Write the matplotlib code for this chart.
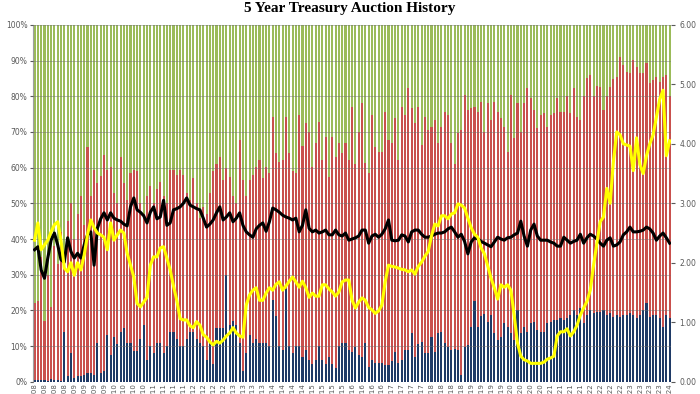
import matplotlib.pyplot as plt
import numpy as np

# monthly 5y auctions, Jan 2008 .. Jan 2024
# direct bidders (% of total), bottom blue bars
direct = [
    0.6, 0.5, 0.4, 0.5, 0.3, 0.7, 0.5, 0.4, 0.3, 14,
    1.5, 8, 1.2, 1.5, 1.5, 2.0, 2.5, 2.5, 2.0, 11,
    2.5, 3.0, 13, 7.5, 12.5, 10.5, 14, 15, 11, 11,
    8.5, 8.5, 12, 16, 6, 10, 8, 11, 11, 8,
    10, 14, 14, 12, 10, 10, 12, 14, 14, 12,
    11, 10, 6, 11, 5, 15, 15, 15, 30, 16,
    17, 16, 11, 3, 8, 13, 11, 12, 11, 11,
    11, 10, 23, 18.5, 10, 9, 26, 10, 8, 10,
    10, 7, 9, 6, 5, 6, 10, 6, 5, 7,
    5, 4, 10, 11, 11, 9,
    8.4, 9.8, 7.5, 7.0, 11, 4.2, 6.1, 5.2, 5.2, 5.2,
    4.7, 4.7, 5.7, 8.4, 5.2, 6.1, 8.9, 8.9, 13.6, 7.0,
    10.7, 11.2, 8.0, 8.0, 12.6, 8.4, 13.6, 14.0, 10.8, 9.8,
    8.9, 9.3, 8.9, 1.9, 9.8, 10.3, 15.4, 22.5, 15.4, 18.5,
    19.0, 16.8, 18.7, 13.6, 11.7, 12.6, 16.4, 15.4, 13.6, 11.7,
    20.1, 13.6, 15.4, 14.0, 16.4, 16.8, 14.5, 14.0, 14.0, 16.4,
    16.8, 17.3, 17.3, 17.8, 17.3, 17.8, 18.7, 20.1, 18.7, 20.6,
    16.4, 18.7, 20.1, 19.2, 19.6, 19.6, 20.1, 18.7, 19.2, 18.2,
    18.7, 18.2, 18.7, 18.7, 19.2, 18.7, 17.8, 18.7, 20.1, 22.0,
    18.2, 18.7, 18.7, 17.8, 15.4, 18.7,
    18,
]

# direct + indirect (% of total), top of the red bars
non_dealer = [
    22, 22.5, 35, 17, 30, 21, 38, 33, 42, 36,
    45, 50, 40, 47, 52, 44, 65.9, 52, 59.4, 55.7,
    57.6, 63.6, 59.4, 60.3, 53, 50, 63, 55.7, 51, 58.5,
    59.4, 59, 50, 47, 52, 54.8, 50, 54, 56, 52,
    50, 59.4, 59.4, 58, 59.4, 58, 53, 51, 57, 50,
    46, 49, 47, 52.8, 59, 61, 63, 56.6, 60, 57.5,
    52, 50, 67.7, 56.6, 52, 56.6, 58, 60.3, 62, 57,
    60.3, 58.5, 74.3, 64.1, 61.7, 62, 74.3, 64, 59, 58.5,
    74.7, 66, 72.4, 70, 60.3, 66.8, 72.9, 62, 68.7, 57.5,
    68.7, 63, 66.8, 64, 67,
    62.2, 77, 61, 70.1, 78, 61.3, 58.5, 74.7, 65.9, 64.5,
    64.5, 75.7, 67.7, 66.8, 73.8, 62.2, 77, 74.7, 82.2, 76.6,
    72.4, 77, 66.4, 74.3, 70.6, 71.5, 73.3, 66.8, 71.5, 75.7,
    74.7, 66.8, 61, 69.6, 70.6, 80.4, 76.1, 76.6, 77, 75.7,
    78.5, 70.1, 78, 73.3, 78.5, 75.7, 73.8, 71.5, 64.5, 80.4,
    68.2, 78, 70.1, 78, 82.2, 79.4, 76.1, 71, 74.7, 75.2,
    71.5, 74.7, 75.2, 79.5, 75.7, 75.7, 80, 75.2, 82.2, 74.3,
    73.3, 80, 85, 86, 80, 83, 82.6, 76, 80, 82.6,
    84.7, 85.5, 91.1, 88.8, 86.9, 86.4, 90.2, 88.3, 86.4, 86.4,
    89.3, 83.6, 84.5, 85.5, 84, 85.5,
    86, 80,
]

# bid to cover (right axis)
btc = [
    2.22, 2.27, 1.88, 1.74, 2.08, 2.38, 2.50, 2.30, 2.05, 2.01,
    2.42, 2.19, 2.08, 2.16, 2.08, 2.30, 2.47, 2.52, 1.96, 2.58,
    2.74, 2.84, 2.72, 2.84, 2.75, 2.72, 2.70, 2.65, 2.62, 2.94,
    3.09, 2.89, 2.85, 2.79, 2.67, 2.85, 2.94, 2.74, 2.77, 3.05,
    2.63, 2.67, 2.89, 2.91, 2.94, 3.00, 3.09, 2.97, 2.94, 2.91,
    2.89, 2.75, 2.60, 2.65, 2.72, 2.84, 2.94, 2.72, 2.77, 2.84,
    2.69, 2.75, 2.84, 2.63, 2.52, 2.47, 2.43, 2.57, 2.63, 2.67,
    2.53, 2.69, 2.92, 2.89, 2.85, 2.80, 2.77, 2.75, 2.72, 2.75,
    2.52, 2.63, 2.89, 2.58, 2.52, 2.55, 2.50, 2.52, 2.55, 2.47,
    2.47, 2.55, 2.47, 2.45, 2.50, 2.38, 2.40, 2.42, 2.45, 2.55,
    2.55, 2.33, 2.45, 2.48, 2.43, 2.48, 2.57, 2.72, 2.38, 2.37,
    2.38, 2.47, 2.45, 2.35, 2.52, 2.55, 2.55, 2.48, 2.43, 2.43,
    2.45, 2.48, 2.50, 2.50, 2.52, 2.57, 2.60, 2.52, 2.43, 2.48,
    2.36, 2.15, 2.35, 2.42, 2.40, 2.36, 2.33, 2.30, 2.27, 2.35,
    2.43, 2.40, 2.38, 2.42, 2.43, 2.47, 2.50, 2.70, 2.45, 2.28,
    2.55, 2.65, 2.45, 2.38, 2.38, 2.38, 2.35, 2.33, 2.28, 2.28,
    2.43, 2.38, 2.33, 2.36, 2.38, 2.48, 2.33, 2.42, 2.48, 2.45,
    2.40, 2.33, 2.28, 2.38, 2.42, 2.28, 2.30, 2.35, 2.47, 2.52,
    2.60, 2.52, 2.52, 2.53, 2.55, 2.60, 2.57, 2.50, 2.38, 2.45,
    2.50, 2.42, 2.33,
]

# high yield (right axis)
high_yield = [
    2.38, 2.67, 2.22, 2.30, 2.38, 2.52, 2.64, 2.69, 2.38, 1.91,
    1.85, 2.00, 1.79, 2.00, 1.88, 2.13, 2.47, 2.72, 2.59, 2.50,
    2.47, 2.43, 2.22, 2.67, 2.38, 2.47, 2.55, 2.50, 2.16, 1.96,
    1.76, 1.32, 1.26, 1.34, 1.42, 1.96, 2.10, 2.10, 2.25, 2.27,
    2.08, 1.88, 1.61, 1.37, 1.06, 1.04, 1.04, 0.94, 0.91, 1.01,
    0.95, 0.79, 0.75, 0.67, 0.62, 0.68, 0.65, 0.70, 0.77, 0.82,
    0.91, 0.82, 0.77, 0.75, 1.29, 1.46, 1.54, 1.58, 1.37, 1.37,
    1.49, 1.58, 1.54, 1.64, 1.68, 1.54, 1.61, 1.69, 1.76, 1.68,
    1.59, 1.69, 1.58, 1.42, 1.49, 1.44, 1.44, 1.63, 1.63, 1.56,
    1.51, 1.44, 1.51, 1.68, 1.71, 1.71, 1.37, 1.24, 1.34, 1.41,
    1.37, 1.25, 1.21, 1.15, 1.19, 1.29, 1.68, 1.96, 1.94, 1.93,
    1.91, 1.89, 1.88, 1.85, 1.88, 1.81, 1.94, 2.01, 2.11, 2.19,
    2.45, 2.65, 2.62, 2.79, 2.79, 2.74, 2.82, 2.84, 2.99, 2.97,
    2.92, 2.75, 2.59, 2.48, 2.43, 2.25, 2.15, 1.95, 1.74, 1.58,
    1.39, 1.63, 1.59, 1.63, 1.54, 1.12, 0.65, 0.43, 0.37, 0.35,
    0.31, 0.31, 0.31, 0.31, 0.33, 0.38, 0.40, 0.43, 0.77, 0.84,
    0.84, 0.89, 0.77, 0.84, 0.95, 1.12, 1.24, 1.35, 1.54, 1.96,
    2.32, 2.69, 2.77, 3.25, 3.00, 3.70, 4.20, 4.15, 4.00, 3.98,
    3.96, 3.55, 4.10, 3.65, 3.50, 3.80, 4.00, 4.15, 4.45, 4.75,
    4.90, 3.80, 4.05,
]

n = len(direct)
x = np.arange(n)
years = [2008 + i // 12 for i in range(n)]
xlabels = ["'%02d" % (yr % 100) for yr in years]

direct = np.array(direct)
non_dealer = np.array(non_dealer)
indirect = non_dealer - direct
dealer = 100 - non_dealer

fig = plt.figure(figsize=(7, 3.94), dpi=100)
ax = fig.add_axes([0.047, 0.031, 0.912, 0.906])

W = 0.62
ax.bar(x, direct, width=W, color='#1F3A66', zorder=2)
ax.bar(x, indirect, bottom=direct, width=W, color='#C9504D', zorder=2)
ax.bar(x, dealer, bottom=non_dealer, width=W, color='#9BBB59', zorder=2)

ax.set_xlim(-0.5, n - 0.5)
ax.set_ylim(0, 100)
ax.set_yticks(range(0, 101, 10))
ax.set_yticklabels(['%d%%' % v for v in range(0, 101, 10)])
ax.set_axisbelow(False)
ax.yaxis.grid(True, color='#6E6E6E', lw=0.7, alpha=0.45)

ax.set_xticks(x[::3])
ax.set_xticklabels(xlabels[::3], rotation=90)
ax.tick_params(axis='x', labelsize=5, colors='#595959', length=0, pad=1)
ax.tick_params(axis='y', labelsize=5.5, colors='#595959', length=2, pad=2)
for s in ['top', 'right', 'bottom']:
    ax.spines[s].set_visible(False)
ax.spines['left'].set_color('#A0A0A0')

ax2 = ax.twinx()
ax2.plot(x, btc, color='black', lw=2.2, zorder=3)
ax2.plot(x, high_yield, color='#FFFF00', lw=2.2, zorder=4)
ax2.set_ylim(0, 6)
ax2.set_yticks(range(7))
ax2.set_yticklabels(['%.2f' % v for v in range(7)])
ax2.tick_params(axis='y', labelsize=5.5, colors='#595959', length=3, pad=3)
for s in ['top', 'left', 'bottom']:
    ax2.spines[s].set_visible(False)
ax2.spines['right'].set_visible(False)

fig.text(0.5, 0.995, '5 Year Treasury Auction History', ha='center', va='top',
         fontsize=11, fontweight='bold', family='Liberation Serif')

fig.savefig('out.png', dpi=100)
